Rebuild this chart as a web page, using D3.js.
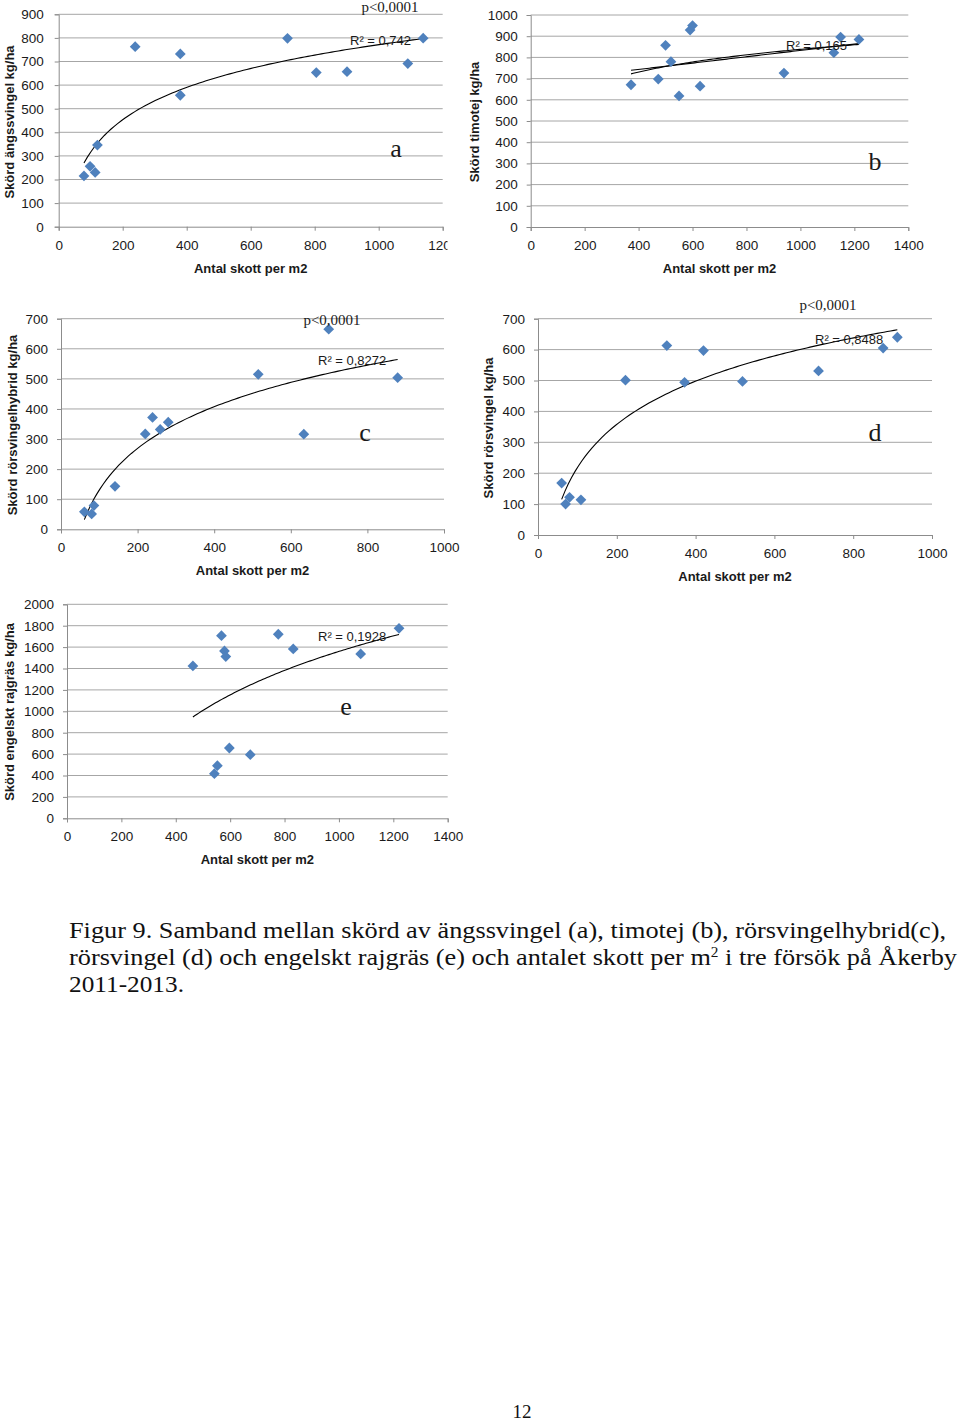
<!DOCTYPE html>
<html><head><meta charset="utf-8">
<script src="https://cdn.jsdelivr.net/npm/d3@7"></script>
<style>
body{margin:0;background:#fff;}
svg text{font-family:"Liberation Sans",Arial,sans-serif;}
.serif{font-family:"Liberation Serif","DejaVu Serif",serif !important;}
</style></head>
<body>
<svg id="chart" width="960" height="1421"></svg>
<script>
// ---------- DATA ----------
const xTitle = "Antal skott per m2";

const aX = [79, 98, 114, 121, 239, 380, 380, 715, 805, 901, 1091, 1139];
const aY = [215, 256, 230, 346, 763, 732, 557, 798, 653, 657, 691, 799];
const aXTicks = [0, 200, 400, 600, 800, 1000, 1200];
const aYTicks = [0, 100, 200, 300, 400, 500, 600, 700, 800, 900];

const bX = [372, 473, 500, 520, 550, 591, 600, 628, 939, 1124, 1149, 1217];
const bY = [671, 698, 857, 780, 618, 929, 950, 664, 726, 822, 896, 885];
const bXTicks = [0, 200, 400, 600, 800, 1000, 1200, 1400];
const bYTicks = [0, 100, 200, 300, 400, 500, 600, 700, 800, 900, 1000];

const cX = [61, 80, 86, 141, 220, 239, 259, 280, 515, 634, 699, 879];
const cY = [58, 51, 79, 143, 317, 372, 332, 356, 515, 316, 665, 504];
const cXTicks = [0, 200, 400, 600, 800, 1000];
const cYTicks = [0, 100, 200, 300, 400, 500, 600, 700];

const dX = [60, 70, 80, 109, 222, 327, 372, 420, 519, 712, 876, 912];
const dY = [168, 100, 122, 114, 501, 613, 494, 597, 497, 531, 605, 640];
const dXTicks = [0, 200, 400, 600, 800, 1000];
const dYTicks = [0, 100, 200, 300, 400, 500, 600, 700];

const eX = [463, 568, 579, 584, 542, 553, 597, 674, 777, 832, 1080, 1221];
const eY = [1424, 1707, 1564, 1511, 417, 492, 657, 595, 1720, 1583, 1536, 1776];
const eXTicks = [0, 200, 400, 600, 800, 1000, 1200, 1400];
const eYTicks = [0, 200, 400, 600, 800, 1000, 1200, 1400, 1600, 1800, 2000];

const yTitles = ["Skörd ängssvingel kg/ha", "Skörd timotej kg/ha", "Skörd rörsvingelhybrid kg/ha", "Skörd rörsvingel kg/ha", "Skörd engelskt rajgräs kg/ha"];
const r2Labels = ["R² = 0,742", "R² = 0,165", "R² = 0,8272", "R² = 0,8488", "R² = 0,1928"];
const panelLetters = ["a", "b", "c", "d", "e"];
const pLabel = "p<0,0001";

// ---------- HELPERS ----------
const svg = d3.select("#chart");

function fit(xs, ys, logX) {
  const tx = xs.map(v => logX ? Math.log(v) : v);
  const n = xs.length;
  const mx = d3.mean(tx), my = d3.mean(ys);
  let sxy = 0, sxx = 0;
  for (let i = 0; i < n; i++) { sxy += (tx[i]-mx)*(ys[i]-my); sxx += (tx[i]-mx)**2; }
  const a = sxy/sxx, b = my - a*mx;
  return v => a*(logX ? Math.log(v) : v) + b;
}

function panel(cfg) {
  const g = svg.append("g");
  if (cfg.clipRight) {
    const id = "clip" + cfg.letter;
    svg.append("clipPath").attr("id", id).append("rect")
      .attr("x", 0).attr("y", 0).attr("width", cfg.clipRight).attr("height", 1421);
    g.attr("clip-path", `url(#${id})`);
  }
  const x = d3.scaleLinear().domain(d3.extent(cfg.xTicks)).range([cfg.left, cfg.right]);
  const y = d3.scaleLinear().domain(d3.extent(cfg.yTicks)).range([cfg.bottom, cfg.top]);

  // gridlines
  g.append("g").selectAll("line").data(cfg.yTicks.filter(t => t > 0)).join("line")
    .attr("x1", cfg.left).attr("x2", cfg.right)
    .attr("y1", d => y(d)).attr("y2", d => y(d))
    .attr("stroke", "#a6a6a6").attr("stroke-width", 1);

  // axes
  const xa = d3.axisBottom(x).tickValues(cfg.xTicks).tickSize(4).tickPadding(6).tickFormat(d3.format("d"));
  const ya = d3.axisLeft(y).tickValues(cfg.yTicks).tickSize(4).tickPadding(cfg.yPad || 9).tickFormat(d3.format("d"));
  const gx = g.append("g").attr("transform", `translate(0,${cfg.bottom})`).call(xa);
  const gy = g.append("g").attr("transform", `translate(${cfg.left},0)`).call(ya);
  [gx, gy].forEach(ax => {
    ax.select(".domain").attr("stroke", "#8c8c8c");
    ax.selectAll(".tick line").attr("stroke", "#8c8c8c");
    ax.selectAll(".tick text").attr("font-size", 13.5).attr("fill", "#1a1a1a")
      .attr("font-family", "Liberation Sans, Arial, sans-serif");
  });
  gx.selectAll(".tick text").attr("dy", "0.95em");

  // titles
  g.append("text").attr("x", (cfg.left + cfg.right)/2).attr("y", cfg.bottom + 46)
    .attr("text-anchor", "middle").attr("font-size", 13).attr("font-weight", "bold").attr("fill", "#1a1a1a")
    .text(xTitle);
  g.append("text").attr("transform", `translate(${cfg.ytX},${cfg.ytY}) rotate(-90)`)
    .attr("text-anchor", "middle").attr("font-size", 13).attr("font-weight", "bold").attr("fill", "#1a1a1a")
    .text(cfg.yTitle);

  // trend lines
  cfg.fits.forEach(logX => {
    const f = fit(cfg.xs, cfg.ys, logX);
    const [x0, x1] = d3.extent(cfg.xs);
    const pts = d3.range(0, 101).map(i => x0 + (x1 - x0)*i/100);
    g.append("path").datum(pts)
      .attr("d", d3.line().x(v => x(v)).y(v => y(f(v))))
      .attr("fill", "none").attr("stroke", "#000").attr("stroke-width", 1.1);
  });

  // markers
  const sym = d3.symbol().type(d3.symbolSquare).size(58);
  g.append("g").selectAll("path").data(cfg.xs.map((v, i) => [v, cfg.ys[i]])).join("path")
    .attr("d", sym)
    .attr("transform", d => `translate(${x(d[0])},${y(d[1])}) rotate(45)`)
    .attr("fill", "#4f81bd");

  // annotations
  g.append("text").attr("x", cfg.r2[0]).attr("y", cfg.r2[1]).attr("font-size", 13).attr("fill", "#1a1a1a")
    .text(cfg.r2Text);
  if (cfg.p) {
    g.append("text").attr("class", "serif").attr("x", cfg.p[0]).attr("y", cfg.p[1])
      .attr("text-anchor", "middle").attr("font-size", 15).attr("fill", "#1a1a1a").text(pLabel);
  }
  g.append("text").attr("class", "serif").attr("x", cfg.lt[0]).attr("y", cfg.lt[1])
    .attr("text-anchor", "middle").attr("font-size", 26).attr("fill", "#1a1a1a").text(cfg.letter);
}

panel({letter: panelLetters[0], xs: aX, ys: aY, xTicks: aXTicks, yTicks: aYTicks,
  left: 58.7, right: 442.7, top: 14.3, bottom: 226.7, clipRight: 447.5, yPad: 11,
  yTitle: yTitles[0], ytX: 14, ytY: 122, fits: [true],
  r2Text: r2Labels[0], r2: [350, 45], p: [390, 12], lt: [396, 157]});

panel({letter: panelLetters[1], xs: bX, ys: bY, xTicks: bXTicks, yTicks: bYTicks,
  left: 530.7, right: 908.3, top: 15, bottom: 227,
  yTitle: yTitles[1], ytX: 479, ytY: 122, fits: [false, true],
  r2Text: r2Labels[1], r2: [786, 50], p: null, lt: [875, 170]});

panel({letter: panelLetters[2], xs: cX, ys: cY, xTicks: cXTicks, yTicks: cYTicks,
  left: 61, right: 444, top: 318.7, bottom: 529.3,
  yTitle: yTitles[2], ytX: 17, ytY: 425, fits: [true],
  r2Text: r2Labels[2], r2: [318, 365], p: [332, 325], lt: [365, 441]});

panel({letter: panelLetters[3], xs: dX, ys: dY, xTicks: dXTicks, yTicks: dYTicks,
  left: 538, right: 932, top: 318.7, bottom: 535,
  yTitle: yTitles[3], ytX: 493, ytY: 428, fits: [true],
  r2Text: r2Labels[3], r2: [815, 344], p: [828, 310], lt: [875, 441]});

panel({letter: panelLetters[4], xs: eX, ys: eY, xTicks: eXTicks, yTicks: eYTicks,
  left: 67, right: 447.7, top: 604.3, bottom: 818.3,
  yTitle: yTitles[4], ytX: 14, ytY: 712, fits: [true],
  r2Text: r2Labels[4], r2: [318, 641], p: null, lt: [346, 715]});

// ---------- CAPTION ----------
const cap = svg.append("g").attr("class", "serif").attr("font-size", 24).attr("fill", "#111");
cap.append("text").attr("class", "serif").attr("x", 69).attr("y", 938)
  .attr("textLength", 877).attr("lengthAdjust", "spacingAndGlyphs")
  .text("Figur 9. Samband mellan skörd av ängssvingel (a), timotej (b), rörsvingelhybrid(c),");
const l2 = cap.append("text").attr("class", "serif").attr("x", 69).attr("y", 965)
  .attr("textLength", 888).attr("lengthAdjust", "spacingAndGlyphs");
l2.append("tspan").text("rörsvingel (d) och engelskt rajgräs (e) och antalet skott per m");
l2.append("tspan").attr("dy", -8).attr("font-size", 14).text("2");
l2.append("tspan").attr("dy", 8).text(" i tre försök på Åkerby");
cap.append("text").attr("class", "serif").attr("x", 69).attr("y", 992)
  .attr("textLength", 115).attr("lengthAdjust", "spacingAndGlyphs").text("2011-2013.");

svg.append("text").attr("class", "serif").attr("x", 522).attr("y", 1418).attr("text-anchor", "middle")
  .attr("font-size", 19).attr("fill", "#111").text("12");
</script>
</body></html>
